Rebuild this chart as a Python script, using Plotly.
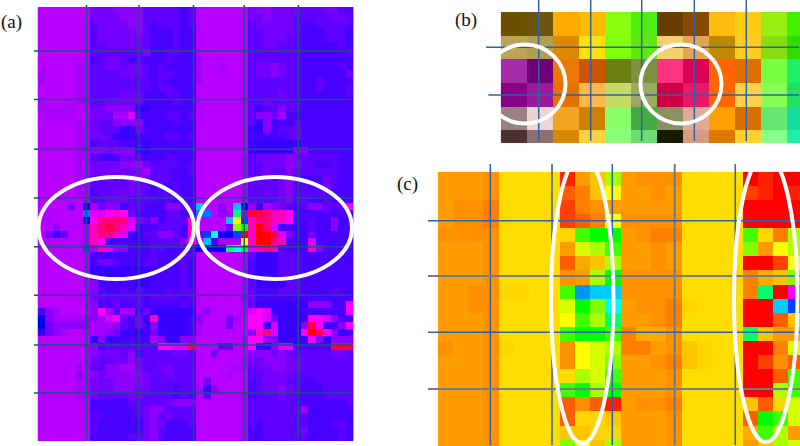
import plotly.graph_objects as go

W, H = 800, 446

# hue (degrees) of each letter used in the cell tables
hue_levels = {
    "A": 283, "B": 279, "C": 273, "D": 267, "E": 262, "F": 257, "G": 253, "H": 240,
    "I": 225, "J": 212, "K": 195, "L": 175, "M": 150, "N": 90, "O": 60, "P": 360,
    "Q": 345, "S": 330, "T": 315, "U": 300, "V": 292, "W": 120,
    "a": 52, "b": 50, "c": 46, "d": 40, "e": 37, "f": 34, "g": 30, "h": 22, "i": 15,
    "j": 8, "k": 0, "l": 60, "m": 70, "n": 80, "p": 90, "q": 105, "r": 120, "s": 145,
    "t": 175, "u": 192, "v": 205, "w": 225, "x": 300,
}

panel_a_rows = [
    "AAAAAAA DDDCCCCEEEEEFE AAAAAAA DCCDDDDEEEDDEE",
    "AAAAAAA DDDDCCCEEEEEFE AAAAAAA DDCDDDEEEEEDDE",
    "AAAAAAA EDDDDCCEFEEEFE AAAAAAA EDDDDDEFFEEEEE",
    "AAAAAAA EDDDDDCEFFFEFF AAAAAAA EEDDDDEFFFEEEF",
    "AAAAAAA EDDDDDDEFFFEFF AAAAAAA EEDDDEEFFFEEEF",
    "AAAAAAA EEDDDDDEFFFEFF AAAAAAA EEDDEEEFFFFFEF",
    "AAAAAAA EEEEEEECFFEEFF AAAAAAA EEEEEEEFFFFFFE",
    "AAAAAAA FEDDEFEFFFEFFF BAAAAAA EEEEEEEFFFFFFF",
    "AAAAABB EEDDEDDEFEFFFF BAABAAA EDDCDEEFFFFFEF",
    "BAAAABB EEEEDDDEFEEFFF BAAAAAA EDDCDEEFFFFFFD",
    "BAAAABB EEEEEEEEFEFFFF BAAAAAA EEEEEEEFFEFFFF",
    "AAAAABB EEEEEEEEFEEFFF AAAAAAA EEEEEEEFFEFFFE",
    "AAAAABB EEEEDDDFFFEEFF AAAAAAA EEEEDEEFFFFFFE",
    "BAAAABB EEDDDDDFFFFEFF AAAAAAA EEDEEEEFFFFFFF",
    "BBBBBAA DDCCCCGGFFFFFF AAAAAAA EGEECEEFFFFFFF",
    "ABBBBAA DDDBBVFFFFEEFE AAAAAAA ECCDBFFFFFFFFF",
    "AAAAABB DEECCCCGFFFEFF AAAAAAA EGCFFFEFFFFFFF",
    "AAAAABB DEEEGGDFFFFFFF AAAAAAA GGCFEEDFFFFFFF",
    "AAAAABB DDEGGGFFFFEEFE AAAAAAA FFFFFEDFFFFFFF",
    "AAAAABB FEEEFFFGFFFFFF AAAAAAA GGGGGGGFFFFFFF",
    "AAAAABB CCDCCCGGFFFFFF AAAAAAA GGGGGGCCFFFFFF",
    "AAAAABB EFFFDDEFFFEFFF AAAAAAB EDDDDCDEEEEEFF",
    "AAAAABB DDDDCCBDEEEEFE AAAAAAB EEDDDCCEEFFEFF",
    "AAAAABB DDDDDDCBEEEFFE AAAAAAB EEDEECDEEEEEFF",
    "AAAAABB EEDEECBDEEEFFF AAAAAAB EEEEDCEFFFDEFF",
    "AAAAABB EEEEEDDEFEFEFF AAAAAAB EEEEDCEEFFDEFF",
    "AAAAABB FEEDDDDEFEEEFF AAAAAAB EEDEDCEEEEEFFF",
    "AAAAAAB EEDDDEEEEFEFEF AAAAAAB EEEEDCEEFFEFFF",
    "AAAADAH BDCCGEEFFFCCEE KAACAKH CGBCDFFECCEEEU",
    "AAAAAAJ VVUTUDFFFFEEFF JJACBMB QQSTTUFFFFEFFF",
    "ABAAAAH USSSSVCECFEEET AAAAKOI TSSTTUFFEFFCFF",
    "AACAAAB TSQSTVFFFEEEFT AAAADNW TPSVFFFFEFFCFF",
    "ADGEAAB TSSTVFGEECCEFT EILHHIP TPPQVCFFDFFFFF",
    "AAAAAAB TUFFFFFFEEEECU CKFBBBO TPPSTFFFVFFFFF",
    "AAAAAAI BTVCCFFFEEFFEF HHHHMLW VTSTFFFFTCFFFF",
    "AAAAAAB FFFFFFFFEFFFEE AAAAAAB EGGGEEEFFFFFFF",
    "AAAAAAB FDDEFFFEEFFFEF AAAAAAB FGGGEEEFFFFFFF",
    "AAAAAAB GGGGGGGGFFFFEF AAAAAAB FGGGEEEFFFFFFF",
    "AAAAAAB GGGGGGGGFFFFEF AAAAAAB FGGGEEEFFFFFFF",
    "AAAAAAB CFFFFFGGFFFFEF AAAAAAB EGGGGEEFFFFFFF",
    "AAAAAAB CEFFEFEFFFEFEE AAAAAAB EFFFEEEFFFFEFF",
    "AAAAAAB DEEEEEEFEEEEFE AAAAAAC DFFFFFFFFFFFFF",
    "AAAAAAB CFFDFFEFFFFFEF AAAAAAB EGGGGGGGCCCFFU",
    "FCBAAAA CUBEBBFDGGGGGG ACAAAAB VUVGGGGFFFFFFU",
    "HCBBBBC CBVUEFDGTGGGGF CAAADBA UUVDGGGGUUVCFF",
    "HDCCCCC BBBCEFDGCGGGGF BAAADAA UUGVGGGCQUGFCU",
    "GDCBAAB BBCDGGGFDGGGGF BAAAAAA CTSVGGGUPQUCGF",
    "AAAAAAA GCGFFFFFBCGGCC AAAAAAB UUCCGGGGUCGCCC",
    "AAAAAAB CFEEEEEEEUUVVQ AAAEEAA UGGCVVFFFFFQQQ",
    "AAAAAAB CDDDECFEEEEDDE AADAAAA CCCDCDEEEEEDDE",
    "AAAAAAB DEEDDCDEEEEEEE AAAAAAB DDCCCDDEEEEEEE",
    "AAAAABB EECCBBDEEDDEEE AAAAABB EDDCCDDEEEEEEE",
    "AAAAACB CDCCCCCDEEDEEE AAAABAA EEDDDDEEEEEEEE",
    "AAAAABB DDDCCCCDEEEEEE ADAAAAA FEDDDEEFFEEEEE",
    "AAAAABB DDDCCCDDEEEFEE BGCAAAA FEDDCDEFFFEEEE",
    "AAAAABB DEEEEDDEEEEFEF AEAAAAB FEEEDEEFFFEEEE",
    "AAAAAAA FFFFFEEEEEDCCC AAAAAAB EEEEEEFFFFFFFE",
    "AAAAAAA FFFFFFEDCCEEEE AAAAAAB EEEEEEEBFFFFFF",
    "AAAAAAA EEFFFFEDCEDEEE AAAAAAB EEEEEEEEFFFFFF",
    "AAAAAAA EFFFFFFDCDFFFE AAAAAAB EFEEEEEEFFFEEF",
    "AAAAAAA EFFFFFFDCEFFFF AAAAAAB FFEEEEEDFFFFEF",
    "AAAAAAA FFFFFEEDCEFFFF AAAAAAB FFEEEEEEFFFFEF",
]

panel_b_colors = [
    ["#6B5000", "#6B5310", "#FFAA00", "#FFBB00", "#88FF11", "#55EE11", "#663F00", "#884A00", "#FFBB11", "#FFCC11", "#99EE11", "#44EE00"],
    ["#BBA555", "#B09F50", "#DD8800", "#FFE011", "#80FF11", "#5FE811", "#F3CF70", "#E2A550", "#C08800", "#FFCC22", "#88DD11", "#33DD00"],
    ["#A52BA8", "#700078", "#EE7700", "#CC5500", "#6B7F11", "#7F8F44", "#FF3380", "#DD0055", "#FF6600", "#DD7000", "#77FF44", "#22EE66"],
    ["#880088", "#9A1A9A", "#E87000", "#FFB84A", "#C8DA66", "#9BAA60", "#CC0044", "#E6196A", "#FF6600", "#FFD050", "#88FF55", "#22E060"],
    ["#9A8080", "#E9D5D2", "#F2A520", "#D08000", "#88FF66", "#44AA44", "#8A9060", "#E0AA95", "#FFA000", "#D87000", "#66E870", "#15DDA0"],
    ["#4D3030", "#8A7070", "#D58800", "#FFD040", "#88FF77", "#6FDD70", "#151A00", "#D89A80", "#E07800", "#FFD030", "#88FF88", "#22EEAA"],
]

panel_c_rows = [
    "eeef aaaa jecn efff aaaa kjkk",
    "eeef aaaa hgcl eefe aaaa ijkj",
    "effg aaaa igfe eeee aaaa kkkk",
    "effg aaaa ihgl ffff aaaa kkkk",
    "ffff aaaa bqrr efgg aaaa qbgn",
    "eeef aaaa emnq eefe aaaa peln",
    "eeef aaaa hdcn eefe aaaa kkil",
    "eeef aaaa fenr ffff aaab gdcp",
    "eeff bbaa qvuu ffff aaaa gskx",
    "eeff aaaa mrpt effg baaa kkuw",
    "eeef aaaa lqns eefg aaaa kkhc",
    "eeef aaaa qrrq gddf aaaa scee",
    "feef baaa flmn ggef cbaa kkgm",
    "eeef aaaa flmp eefg cbaa kifh",
    "eeef aaaa anmq eeef aaaa kkhq",
    "eeef aaaa qrnr eeef aaaa kknq",
    "eeef aaaa hfhj effg aaaa chbm",
    "eeef aaaa hbbc eeef aaaa hrqm",
    "eeef aaaa ccbb eeef aaaa dqne",
    "eeef aaaa plcn eeef aaaa ecnm",
]

panel_labels = ["(a)", "(b)", "(c)"]


def fx(px):
    return px / W


def fy(py):
    return 1 - py / H


def hue_grid(rows, ncols):
    grid = []
    for i, row in enumerate(rows):
        cells = row.replace(" ", "")
        assert len(cells) == ncols, (i, len(cells), row)
        grid.append([hue_levels[ch] for ch in cells])
    return grid


hue_scale = [
    [0, "#FF0000"], [1 / 6, "#FFFF00"], [2 / 6, "#00FF00"], [3 / 6, "#00FFFF"],
    [4 / 6, "#0000FF"], [5 / 6, "#FF00FF"], [1, "#FF0000"],
]

palette = sorted({c for row in panel_b_colors for c in row})
b_scale = [[i / (len(palette) - 1), c] for i, c in enumerate(palette)]
b_grid = [[palette.index(c) for c in row] for row in panel_b_colors]

fig = go.Figure()
common = dict(showscale=False, hoverinfo="skip", xgap=0, ygap=0)
fig.add_trace(go.Heatmap(z=hue_grid(panel_a_rows, 42), colorscale=hue_scale, zmin=0, zmax=360,
                         xaxis="x", yaxis="y", **common))
fig.add_trace(go.Heatmap(z=b_grid, colorscale=b_scale, zmin=0, zmax=len(palette) - 1,
                         xaxis="x2", yaxis="y2", **common))
fig.add_trace(go.Heatmap(z=hue_grid(panel_c_rows, 24), colorscale=hue_scale, zmin=0, zmax=360,
                         xaxis="x3", yaxis="y3", **common))

hidden = dict(visible=False, showgrid=False, zeroline=False, fixedrange=True)
fig.update_layout(
    width=W, height=H, margin=dict(l=0, r=0, t=0, b=0), autosize=False,
    paper_bgcolor="white", plot_bgcolor="white", showlegend=False,
    xaxis=dict(domain=[fx(37.5), fx(353.8)], range=[-0.5, 41.5], anchor="y", **hidden),
    yaxis=dict(domain=[fy(441), fy(7)], range=[61.5, -0.5], anchor="x", **hidden),
    xaxis2=dict(domain=[fx(500.7), 1], range=[-0.5, 11.01], anchor="y2", **hidden),
    yaxis2=dict(domain=[fy(143), fy(12)], range=[5.03, -0.5], anchor="x2", **hidden),
    xaxis3=dict(domain=[fx(437.7), 1], range=[-0.5, 23.23], anchor="y3", **hidden),
    yaxis3=dict(domain=[0, fy(171.7)], range=[18.95, -0.5], anchor="x3", **hidden),
)

shapes = []


def seg(x0, y0, x1, y1, color, width=1.5):
    shapes.append(dict(type="line", xref="paper", yref="paper", x0=fx(x0), y0=fy(y0), x1=fx(x1), y1=fy(y1),
                       line=dict(color=color, width=width)))


line_a = "#1D4F86"
for x in (86.5, 139, 193.5, 244.3, 298.3):
    seg(x, 5, x, 441, line_a)
for y in (51, 99.5, 149.3, 198, 246.7, 295.3, 345, 393):
    seg(34, y, 352, y, line_a)

line_b = "#2F62A6"
for x in (538.7, 590.7, 641.7, 694.3, 746.3):
    seg(x, 0, x, 141, line_b)
for y in (47.3, 95):
    seg(486, y, 799, y, line_b)

line_c = "#2F62A6"
for x in (490.3, 612.3, 735.3):
    seg(x, 164, x, 445, line_c)
for x in (552, 674.7):
    seg(x, 164, x, 445, "#5F7F95", 2)
for y in (220.7, 332.3):
    seg(428, y, 800, y, line_c)
for y in (276, 389):
    seg(428, y, 800, y, "#6F7F85", 2)

for x0, y0, x1, y1 in [
    (38.5, 177, 194, 279), (197.5, 177, 352, 279),
    (484.5, 44.5, 565.5, 123.5), (640.5, 44.5, 721.5, 123.5),
    (551, 155, 613.5, 443.5), (734, 155, 797.5, 442),
]:
    shapes.append(dict(type="circle", xref="paper", yref="paper", x0=fx(x0), y0=fy(y0), x1=fx(x1), y1=fy(y1),
                       line=dict(color="white", width=4)))
fig.update_layout(shapes=shapes)

for text, x, y in zip(panel_labels, (0, 454, 396), (22, 20, 184)):
    fig.add_annotation(text=text, x=fx(x), y=fy(y), xref="paper", yref="paper", xanchor="left", yanchor="middle",
                       showarrow=False, borderpad=0, font=dict(family="Liberation Serif", size=19, color="#111111"))

fig.write_html("out.html", config=dict(displayModeBar=False), post_script="document.body.style.margin='0';")
